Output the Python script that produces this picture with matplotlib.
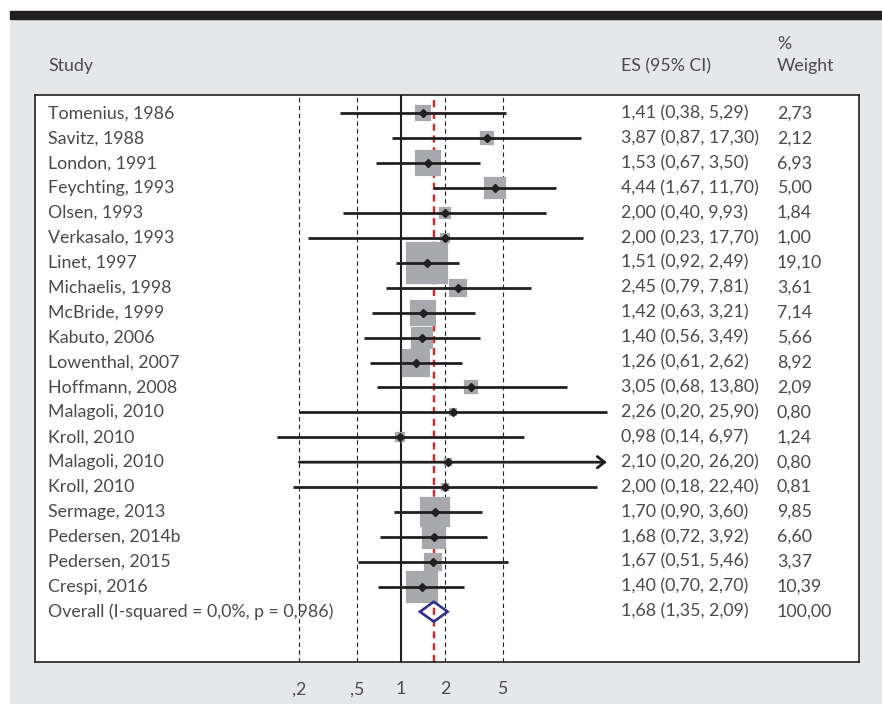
import numpy as np
import matplotlib
matplotlib.use("Agg")
import matplotlib.pyplot as plt
from matplotlib.patches import Rectangle, Polygon
from matplotlib.ticker import NullLocator

studies = ["Tomenius, 1986", "Savitz, 1988", "London, 1991", "Feychting, 1993",
           "Olsen, 1993", "Verkasalo, 1993", "Linet, 1997", "Michaelis, 1998",
           "McBride, 1999", "Kabuto, 2006", "Lowenthal, 2007", "Hoffmann, 2008",
           "Malagoli, 2010", "Kroll, 2010", "Malagoli, 2010", "Kroll, 2010",
           "Sermage, 2013", "Pedersen, 2014b", "Pedersen, 2015", "Crespi, 2016"]
es = [1.41, 3.87, 1.53, 4.44, 2.00, 2.00, 1.51, 2.45, 1.42, 1.40,
      1.26, 3.05, 2.26, 0.98, 2.10, 2.00, 1.70, 1.68, 1.67, 1.40]
lo = [0.38, 0.87, 0.67, 1.67, 0.40, 0.23, 0.92, 0.79, 0.63, 0.56,
      0.61, 0.68, 0.20, 0.14, 0.20, 0.18, 0.90, 0.72, 0.51, 0.70]
hi = [5.29, 17.30, 3.50, 11.70, 9.93, 17.70, 2.49, 7.81, 3.21, 3.49,
      2.62, 13.80, 25.90, 6.97, 26.20, 22.40, 3.60, 3.92, 5.46, 2.70]
weights = [2.73, 2.12, 6.93, 5.00, 1.84, 1.00, 19.10, 3.61, 7.14, 5.66,
           8.92, 2.09, 0.80, 1.24, 0.80, 0.81, 9.85, 6.60, 3.37, 10.39]
overall_label = "Overall (I-squared = 0,0%, p = 0,986)"
overall_es, overall_lo, overall_hi, overall_wt = 1.68, 1.35, 2.09, 100.00
x_clip = 26.0
ref_dashed = [0.2, 0.5, 2, 5]
tick_vals = [0.2, 0.5, 1, 2, 5]
tick_labels = [",2", ",5", "1", "2", "5"]

FONT = ["Lato", "DejaVu Sans"]
TXT = "#4a4a4c"
DARK = "#231f20"
plt.rcParams["font.family"] = FONT

W, H = 882, 704
fig = plt.figure(figsize=(W / 100, H / 100), dpi=100)
fig.patch.set_facecolor("white")
# background panel and top bar
fig.patches.append(Rectangle((10 / W, 0), 1 - 10 / W, 1 - 19 / H,
                             transform=fig.transFigure, color="#e6e7e8", zorder=-10))
fig.patches.append(Rectangle((10 / W, 1 - 19 / H), 1 - 10 / W, 8 / H,
                             transform=fig.transFigure, color=DARK, zorder=-10))

# axes box in pixels
bx0, bx1, by0, by1 = 34.5, 859, 94.5, 662
ax = fig.add_axes([bx0 / W, 1 - by1 / H, (bx1 - bx0) / W, (by1 - by0) / H])
ax.set_zorder(1)
ax.set_facecolor("white")
x_one, ppd = 401.0, 145.5
Lmin = -(x_one - bx0) / ppd
Lmax = (bx1 - x_one) / ppd
ax.set_xscale("log")
ax.set_xlim(10 ** Lmin, 10 ** Lmax)
row0, rstep = 113.3, 24.92
ax.set_ylim((by1 - row0) / rstep, (by0 - row0) / rstep)
for s in ax.spines.values():
    s.set_color(DARK)
    s.set_linewidth(1.2)
ax.set_yticks([])
ax.xaxis.set_minor_locator(NullLocator())
ax.set_xticks(tick_vals)
ax.set_xticklabels(tick_labels)
fs = 12.8
ax.tick_params(axis="x", length=0, pad=14, labelsize=fs, labelcolor=TXT)

# reference lines
for v in ref_dashed:
    ax.axvline(v, color=DARK, lw=0.8, ls=(0, (4, 3)), zorder=1)
ax.axvline(1, color=DARK, lw=1.5, zorder=1)
ax.axvline(overall_es, color="#ed1c24", lw=1.7, ls=(0, (3, 2)), zorder=1)

n = len(studies)
ys = np.arange(n)
px_to_pt = 0.72
for i in range(n):
    side_px = 9.7 * np.sqrt(weights[i])
    mew = 1.6
    ax.plot([es[i]], [ys[i]], marker="s", ms=max(side_px * px_to_pt - mew, 2),
            color="#a7a9ac", mec="#a7a9ac", mew=mew, zorder=2,
            solid_joinstyle="round")
    if hi[i] > x_clip:
        ax.annotate("", xy=(x_clip, ys[i]), xytext=(lo[i], ys[i]),
                    arrowprops=dict(arrowstyle="->,head_length=0.35,head_width=0.27",
                                    lw=2.0, color=DARK, mutation_scale=15,
                                    shrinkA=0, shrinkB=0), zorder=3)
    else:
        ax.plot([lo[i], hi[i]], [ys[i], ys[i]], color=DARK, lw=2.0,
                solid_capstyle="butt", zorder=3)
    ax.plot([es[i]], [ys[i]], marker="D", ms=4.3, color=DARK, mec=DARK, zorder=4)

# overall diamond
yo = n
hd = 0.4
ax.add_patch(Polygon([(overall_lo, yo), (overall_es, yo - hd), (overall_hi, yo),
                      (overall_es, yo + hd)], closed=True, fill=False,
                     edgecolor="#2e3192", lw=1.9, zorder=4))

def fmt(v):
    return f"{v:.2f}".replace(".", ",")

tr = ax.get_yaxis_transform()  # x in axes, y in data
xs_study = (48 - bx0) / (bx1 - bx0)
xs_es = (621 - bx0) / (bx1 - bx0)
xs_wt = (777 - bx0) / (bx1 - bx0)
kw = dict(transform=tr, va="center", ha="left", fontsize=fs, color=TXT,
          clip_on=False)
for i in range(n):
    ax.text(xs_study, ys[i], studies[i], **kw)
    ax.text(xs_es, ys[i], f"{fmt(es[i])} ({fmt(lo[i])}, {fmt(hi[i])})", **kw)
    ax.text(xs_wt, ys[i], fmt(weights[i]), **kw)
ax.text(xs_study, yo, overall_label, **kw)
ax.text(xs_es, yo, f"{fmt(overall_es)} ({fmt(overall_lo)}, {fmt(overall_hi)})", **kw)
ax.text(xs_wt, yo, fmt(overall_wt), **kw)

yh = (66 - row0) / rstep
yp = (44 - row0) / rstep
ax.text(xs_study, yh, "Study", **kw)
ax.text(xs_es, yh, "ES (95% CI)", **kw)
ax.text(xs_wt, yh, "Weight", **kw)
ax.text(xs_wt, yp, "%", **kw)

fig.savefig("out.png", dpi=100)
